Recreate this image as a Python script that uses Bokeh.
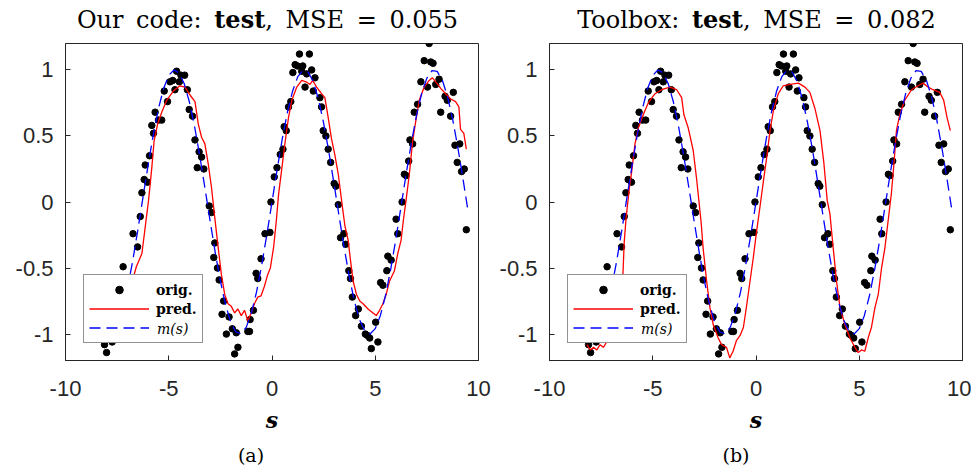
from bokeh.plotting import figure
from bokeh.models import Range1d, FixedTicker, Legend, LegendItem, Div
from bokeh.layouts import row, column
from bokeh.embed import file_html
from bokeh.resources import INLINE

# ---------------- data ----------------
x_ticks = [-10, -5, 0, 5, 10]
x_tick_labels = ["-10", "-5", "0", "5", "10"]
y_ticks = [-1, -0.5, 0, 0.5, 1]
y_tick_labels = ["-1", "-0.5", "0", "0.5", "1"]

orig_s = [-8.11, -8.01, -7.74, -7.21, -6.73, -6.51, -6.38, -6.30, -6.19, -6.14, -6.03, -5.93,
          -5.82, -5.74, -5.66, -5.50, -5.34, -5.22, -5.06, -4.94, -4.81, -4.70, -4.62, -4.49,
          -4.41, -4.23, -4.10, -4.01, -3.85, -3.73, -3.62, -3.53, -3.41, -3.30, -3.04, -2.93,
          -2.82, -2.77, -2.64, -2.56, -2.42, -2.34, -2.21, -2.08, -1.92, -1.81, -1.73, -1.65,
          -1.17, -1.09, -1.06, -0.90, -0.77, -0.69, -0.53, -0.34, -0.10, -0.05, 0.11, 0.24,
          0.40, 0.53, 0.59, 0.69, 0.80, 0.91, 1.01, 1.12, 1.23, 1.33, 1.44, 1.49, 1.60, 1.68,
          1.81, 1.92, 2.00, 2.08, 2.32, 2.40, 2.48, 2.61, 2.72, 2.84, 3.01, 3.09, 3.21, 3.32,
          3.48, 3.57, 3.72, 3.80, 3.89, 4.05, 4.18, 4.33, 4.52, 4.62, 4.73, 4.81, 5.02, 5.13,
          5.26, 5.37, 5.56, 5.61, 5.77, 6.01, 6.09, 6.30, 6.41, 6.49, 6.62, 6.68, 6.81, 6.89,
          7.05, 7.21, 7.37, 7.53, 7.61, 7.69, 7.80, 7.93, 8.09, 8.17, 8.38, 8.49, 8.65, 8.78,
          8.86, 8.97, 9.09, 9.18, 9.31, 9.41]
orig_y = [-1.08, -1.14, -1.06, -0.49, -0.24, -0.34, -0.11, 0.07, 0.17, 0.28, 0.15, 0.35,
          0.58, 0.52, 0.68, 0.62, 0.62, 0.84, 0.76, 0.91, 0.92, 0.85, 0.99, 0.91,
          0.96, 0.96, 0.85, 0.70, 0.65, 0.47, 0.26, 0.38, 0.34, 0.25, -0.03, -0.08,
          -0.42, -0.31, -0.50, -0.59, -0.85, -0.75, -1.00, -0.87, -0.96, -1.15, -0.99, -1.10,
          -0.98, -0.98, -0.89, -0.82, -0.54, -0.58, -0.43, -0.24, -0.23, 0.00, 0.19, 0.26,
          0.36, 0.40, 0.57, 0.54, 0.72, 0.76, 0.98, 1.04, 1.03, 1.12, 0.99, 1.03, 0.87, 0.97,
          1.12, 1.00, 0.84, 0.94, 0.79, 0.72, 0.54, 0.50, 0.40, 0.30, 0.14, 0.12, -0.02, -0.27,
          -0.24, -0.32, -0.52, -0.58, -0.72, -0.86, -0.81, -0.94, -1.00, -1.01, -1.03, -1.11, -0.91, -1.06,
          -0.61, -0.63, -0.52, -0.41, -0.44, -0.13, -0.24, 0.00, 0.21, 0.20, 0.31, 0.47, 0.44, 0.68,
          0.74, 0.91, 1.07, 0.87, 1.20, 1.06, 1.05, 0.89, 0.93, 0.68, 0.80, 0.77, 0.65, 0.83,
          0.43, 0.30, 0.44, 0.23, 0.25, -0.21]

pred_a_s = [-8.05, -7.80, -7.55, -7.30, -7.05, -6.80, -6.57, -6.30, -6.14, -5.98, -5.82, -5.71,
            -5.54, -5.34, -5.10, -4.78, -4.46, -4.21, -3.97, -3.73, -3.57, -3.41, -3.25, -3.09,
            -2.93, -2.77, -2.61, -2.45, -2.29, -2.13, -1.97, -1.81, -1.65, -1.49, -1.33, -1.17,
            -1.01, -0.85, -0.69, -0.53, -0.37, -0.21, -0.08, 0.08, 0.21, 0.32, 0.48, 0.64, 0.80,
            0.96, 1.20, 1.44, 1.65, 1.84, 1.97, 2.16, 2.40, 2.56, 2.72, 2.88, 3.04, 3.21, 3.37,
            3.53, 3.69, 3.80, 3.93, 4.09, 4.25, 4.41, 4.65, 4.89, 5.05, 5.21, 5.37, 5.53, 5.69,
            5.93, 6.09, 6.25, 6.36, 6.49, 6.65, 6.81, 6.97, 7.13, 7.37, 7.61, 7.77, 7.93, 8.17,
            8.41, 8.65, 8.89, 9.05, 9.13, 9.29, 9.41]
pred_a_y = [-0.88, -0.92, -0.86, -0.84, -0.74, -0.62, -0.49, -0.39, -0.19, 0.01, 0.26, 0.46,
            0.59, 0.68, 0.77, 0.84, 0.88, 0.87, 0.81, 0.76, 0.59, 0.49, 0.44, 0.29,
            0.11, -0.12, -0.34, -0.55, -0.70, -0.77, -0.79, -0.84, -0.81, -0.86, -0.82, -0.90,
            -0.84, -0.77, -0.72, -0.71, -0.64, -0.55, -0.50, -0.34, -0.14, 0.06, 0.26, 0.46, 0.64,
            0.77, 0.87, 0.92, 0.91, 0.89, 0.92, 0.87, 0.82, 0.79, 0.64, 0.48, 0.36, 0.21, 0.01,
            -0.18, -0.29, -0.44, -0.60, -0.70, -0.75, -0.77, -0.81, -0.84, -0.86, -0.82, -0.77, -0.70, -0.60,
            -0.52, -0.39, -0.29, -0.14, 0.01, 0.21, 0.46, 0.62, 0.77, 0.87, 0.92, 0.94, 0.91, 0.86,
            0.82, 0.78, 0.76, 0.72, 0.55, 0.52, 0.40]

pred_b_s = [-8.19, -8.03, -7.87, -7.71, -7.55, -7.39, -7.23, -7.06, -6.85, -6.65, -6.45, -6.38,
            -6.29, -6.13, -6.02, -5.86, -5.70, -5.46, -5.22, -4.89, -4.57, -4.17, -3.84, -3.60,
            -3.49, -3.28, -3.04, -2.88, -2.76, -2.66, -2.56, -2.39, -2.23, -2.07, -1.83, -1.67,
            -1.43, -1.27, -1.11, -0.95, -0.77, -0.61, -0.45, -0.29, -0.13, 0.03, 0.19, 0.36,
            0.52, 0.68, 0.84, 1.08, 1.32, 1.65, 2.05, 2.37, 2.61, 2.85, 3.10, 3.29, 3.45, 3.58,
            3.74, 3.90, 4.07, 4.31, 4.55, 4.79, 4.95, 5.11, 5.27, 5.43, 5.59, 5.76, 5.92, 6.08,
            6.24, 6.40, 6.56, 6.68, 6.80, 6.96, 7.20, 7.53, 7.85, 8.09, 8.33, 8.57, 8.90, 9.09,
            9.25, 9.41]
pred_b_y = [-1.08, -1.12, -1.10, -1.12, -1.08, -1.10, -1.06, -1.03, -0.90, -0.75, -0.57, -0.30,
            -0.12, 0.11, 0.23, 0.44, 0.56, 0.66, 0.75, 0.82, 0.85, 0.87, 0.85, 0.79,
            0.66, 0.56, 0.39, 0.18, 0.00, -0.15, -0.35, -0.60, -0.80, -0.93, -1.03, -1.08,
            -1.10, -1.18, -1.13, -1.05, -1.01, -0.95, -0.78, -0.60, -0.42, -0.22, -0.04, 0.16,
            0.34, 0.54, 0.69, 0.82, 0.88, 0.89, 0.90, 0.87, 0.83, 0.71, 0.54, 0.29, 0.01, -0.09,
            -0.35, -0.60, -0.80, -0.93, -1.03, -1.10, -1.14, -1.12, -1.13, -1.03, -0.95, -0.80, -0.70, -0.50,
            -0.35, -0.14, 0.07, 0.29, 0.54, 0.66, 0.77, 0.85, 0.88, 0.90, 0.87, 0.85, 0.83, 0.77,
            0.64, 0.54]

m_s = [-8.00, -7.75, -7.50, -7.25, -7.00, -6.75, -6.50, -6.25, -6.00, -5.75, -5.50, -5.25,
       -5.00, -4.75, -4.50, -4.25, -4.00, -3.75, -3.50, -3.25, -3.00, -2.75, -2.50, -2.25,
       -2.00, -1.75, -1.50, -1.25, -1.00, -0.75, -0.50, -0.25, 0.00, 0.25, 0.50, 0.75,
       1.00, 1.25, 1.50, 1.75, 2.00, 2.25, 2.50, 2.75, 3.00, 3.25, 3.50, 3.75,
       4.00, 4.25, 4.50, 4.75, 5.00, 5.25, 5.50, 5.75, 6.00, 6.25, 6.50, 6.75,
       7.00, 7.25, 7.50, 7.75, 8.00, 8.25, 8.50, 8.75, 9.00, 9.25, 9.50]
m_y = [-0.989, -0.995, -0.938, -0.823, -0.657, -0.450, -0.215, 0.033, 0.279, 0.508, 0.706, 0.859,
       0.959, 0.999, 0.978, 0.895, 0.757, 0.572, 0.351, 0.108, -0.141, -0.382, -0.598, -0.778,
       -0.909, -0.984, -0.997, -0.949, -0.841, -0.682, -0.479, -0.247, 0.000, 0.247, 0.479, 0.682,
       0.841, 0.949, 0.997, 0.984, 0.909, 0.778, 0.598, 0.382, 0.141, -0.108, -0.351, -0.572,
       -0.757, -0.895, -0.978, -0.999, -0.959, -0.859, -0.706, -0.508, -0.279, -0.033, 0.215, 0.450,
       0.657, 0.823, 0.938, 0.995, 0.989, 0.922, 0.798, 0.625, 0.412, 0.174, -0.075]

title_a = ("Our code:", "test", "MSE = 0.055")
title_b = ("Toolbox:", "test", "MSE = 0.082")
legend_labels = ["orig.", "pred.", "m(s)"]
x_label = "s"

AX = "#262626"
SERIF = "DejaVu Serif"
SANS = "Liberation Sans"


def style_axis(ax, ticks, labels):
    ax.ticker = FixedTicker(ticks=ticks)
    ax.major_label_overrides = {t: l for t, l in zip(ticks, labels)}
    ax.axis_line_color = AX
    ax.axis_line_width = 1
    ax.major_tick_line_color = AX
    ax.major_tick_in = 5
    ax.major_tick_out = 0
    ax.minor_tick_line_color = None
    ax.major_label_text_color = AX
    ax.major_label_text_font = SANS
    ax.major_label_text_font_size = "22px"


def make_panel(pred_s, pred_y, bl, br):
    p = figure(frame_width=413, frame_height=317,
               x_range=Range1d(-10, 10), y_range=Range1d(-1.2, 1.2),
               output_backend="svg", toolbar_location=None,
               min_border_left=bl, min_border_right=br,
               min_border_top=7, min_border_bottom=80)
    p.xgrid.visible = False
    p.ygrid.visible = False
    p.outline_line_color = AX
    p.outline_line_width = 1
    p.background_fill_color = "white"
    p.border_fill_color = "white"

    style_axis(p.xaxis[0], x_ticks, x_tick_labels)
    p.xaxis[0].major_label_standoff = 20
    p.xaxis[0].axis_label = x_label
    p.xaxis[0].axis_label_text_font = SERIF
    p.xaxis[0].axis_label_text_font_style = "bold italic"
    p.xaxis[0].axis_label_text_font_size = "22px"
    p.xaxis[0].axis_label_text_color = "black"
    p.xaxis[0].axis_label_standoff = 8
    style_axis(p.yaxis[0], y_ticks, y_tick_labels)
    p.yaxis[0].major_label_standoff = 12

    r_dots = p.scatter(orig_s, orig_y, size=6.5, color="black")
    r_pred = p.line(pred_s, pred_y, color="#ff0000", line_width=1.3)
    r_m = p.line(m_s, m_y, color="#0000ff", line_width=1.3, line_dash="11 6")

    common = dict(orientation="vertical", glyph_width=60, glyph_height=19, label_height=19,
                  label_standoff=7, spacing=0, margin=0, padding=5, label_text_font=SERIF,
                  label_text_font_size="14px", label_text_color="black")
    leg = Legend(items=[LegendItem(label=legend_labels[0], renderers=[r_dots]),
                        LegendItem(label=legend_labels[1], renderers=[r_pred]),
                        LegendItem(label=" ", renderers=[r_m])],
                 location=(18, 17), label_text_font_style="bold",
                 border_line_color=AX, border_line_width=1,
                 background_fill_color="white", background_fill_alpha=1.0, **common)
    p.add_layout(leg)
    leg2 = Legend(items=[LegendItem(label=legend_labels[2], renderers=[])],
                  location=(25, 22), label_text_font_style="italic",
                  border_line_color=None, background_fill_alpha=0.0, **common)
    p.add_layout(leg2)
    return p


def title_div(parts, width, left):
    html = ('<div style="width:413px;margin-left:%dpx;padding-top:2px;text-align:center;'
            'font-family:\'DejaVu Serif\';font-size:24px;line-height:36px;'
            'word-spacing:5px;white-space:nowrap;color:#000;">'
            '%s <b>%s</b>, %s</div>') % (left, parts[0], parts[1], parts[2])
    return Div(text=html, width=width, height=36, margin=0)


def sub_div(text, width, left):
    html = ('<div style="width:100px;margin-left:%dpx;text-align:center;'
            'font-family:\'DejaVu Serif\';font-size:19px;line-height:30px;'
            'white-space:nowrap;color:#000;">%s</div>') % (left, text)
    return Div(text=html, width=width, height=30, margin=0)


W1 = 65 + 413 + 14
W2 = 57 + 413 + 9
p1 = make_panel(pred_a_s, pred_a_y, 65, 14)
p2 = make_panel(pred_b_s, pred_b_y, 57, 9)

col1 = column(title_div(title_a, W1, 61), p1, sub_div("(a)", W1, 201), spacing=0)
col2 = column(title_div(title_b, W2, 58), p2, sub_div("(b)", W2, 194), spacing=0)

layout = row(col1, col2, spacing=0)
html = file_html(layout, INLINE)
open("out.html", "w").write(html)
